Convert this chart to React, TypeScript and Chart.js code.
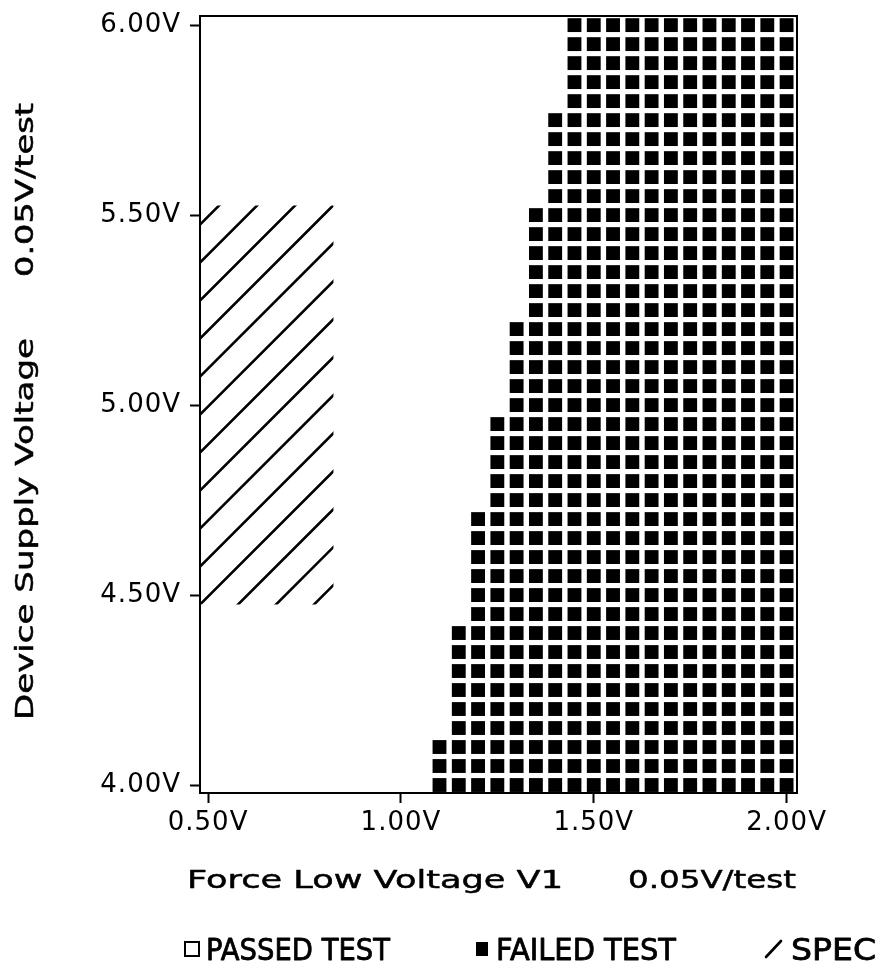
import React, { useEffect, useRef } from "react";
import { Chart, registerables } from "chart.js";

Chart.register(...registerables);

// ---- data ----
const forceLowV1 = [
  0.5, 0.55, 0.6, 0.65, 0.7, 0.75, 0.8, 0.85, 0.9, 0.95, 1.0, 1.05, 1.1, 1.15, 1.2, 1.25,
  1.3, 1.35, 1.4, 1.45, 1.5, 1.55, 1.6, 1.65, 1.7, 1.75, 1.8, 1.85, 1.9, 1.95, 2.0,
];
const supplyVdd = [
  4.0, 4.05, 4.1, 4.15, 4.2, 4.25, 4.3, 4.35, 4.4, 4.45, 4.5, 4.55, 4.6, 4.65, 4.7, 4.75,
  4.8, 4.85, 4.9, 4.95, 5.0, 5.05, 5.1, 5.15, 5.2, 5.25, 5.3, 5.35, 5.4, 5.45, 5.5, 5.55,
  5.6, 5.65, 5.7, 5.75, 5.8, 5.85, 5.9, 5.95, 6.0,
];
// lowest Force-Low V1 that fails, for each supply voltage row (all higher V1 fail too)
const firstFailV1 = [
  1.1, 1.1, 1.1,
  1.15, 1.15, 1.15, 1.15, 1.15, 1.15,
  1.2, 1.2, 1.2, 1.2, 1.2, 1.2,
  1.25, 1.25, 1.25, 1.25, 1.25,
  1.3, 1.3, 1.3, 1.3, 1.3,
  1.35, 1.35, 1.35, 1.35, 1.35, 1.35,
  1.4, 1.4, 1.4, 1.4, 1.4,
  1.45, 1.45, 1.45, 1.45, 1.45,
];
const xTickValues = [0.5, 1.0, 1.5, 2.0];
const yTickValues = [4.0, 4.5, 5.0, 5.5, 6.0];
const specV1 = [0.5, 0.8];
const specVdd = [4.5, 5.5];
const testStep = 0.05;

const xTitleMain = "Force Low Voltage V1";
const xTitleStep = "0.05V/test";
const yTitleMain = "Device Supply Voltage";
const yTitleStep = "0.05V/test";
const legendLabels = ["PASSED TEST", "FAILED TEST", "SPEC"];

const FONT = "'DejaVu Sans', 'Noto Sans', sans-serif";

function buildFailedPoints() {
  const pts: { x: number; y: number }[] = [];
  supplyVdd.forEach((vdd, i) => {
    forceLowV1.forEach((v1) => {
      if (v1 >= firstFailV1[i] - 1e-9) pts.push({ x: v1, y: vdd });
    });
  });
  return pts;
}

function drawFitted(
  ctx: CanvasRenderingContext2D,
  text: string,
  start: number,
  end: number,
  baseline: number,
  size: number,
  rotated = false,
  weight = 0.5
) {
  ctx.save();
  (ctx as any).letterSpacing = "0px";
  ctx.font = `${size}px ${FONT}`;
  ctx.fillStyle = "#000";
  ctx.strokeStyle = "#000";
  ctx.lineWidth = weight;
  ctx.lineJoin = "round";
  ctx.textAlign = "left";
  ctx.textBaseline = "alphabetic";
  const w = ctx.measureText(text).width;
  const s = Math.abs(end - start) / w;
  if (rotated) {
    ctx.translate(baseline, start);
    ctx.rotate(-Math.PI / 2);
  } else {
    ctx.translate(start, baseline);
  }
  ctx.scale(s, 1);
  ctx.fillText(text, 0, 0);
  if (weight > 0) ctx.strokeText(text, 0, 0);
  ctx.restore();
}

const spacingPlugin = {
  id: "letterSpacing",
  beforeDraw(chart: any) {
    chart.ctx.letterSpacing = "1px";
  },
};

const hatchPlugin = {
  id: "specHatch",
  beforeDatasetsDraw(chart: any) {
    const { ctx, chartArea: a, scales } = chart;
    const xs = scales.x;
    const ys = scales.y;
    const half = testStep / 2;
    const left = Math.max(a.left, xs.getPixelForValue(specV1[0] - half));
    const right = Math.min(a.right, xs.getPixelForValue(specV1[1] + half));
    const top = Math.max(a.top, ys.getPixelForValue(specVdd[1] + half));
    const bottom = Math.min(a.bottom, ys.getPixelForValue(specVdd[0] - half));
    const spacing = Math.abs(
      ys.getPixelForValue(specVdd[0] + 2 * testStep) - ys.getPixelForValue(specVdd[0])
    );
    const w = right - left;
    const h = bottom - top;
    ctx.save();
    ctx.beginPath();
    ctx.rect(left, top, w, h);
    ctx.clip();
    ctx.strokeStyle = "#000";
    ctx.lineWidth = 2.6;
    ctx.beginPath();
    const n = Math.ceil((w + h) / spacing) + 1;
    for (let k = -n; k <= n; k++) {
      const y0 = bottom - k * spacing;
      ctx.moveTo(left, y0);
      ctx.lineTo(left + w + h, y0 - (w + h));
    }
    ctx.stroke();
    ctx.restore();
  },
};

const decorPlugin = {
  id: "decor",
  afterDraw(chart: any) {
    const { ctx, chartArea: a } = chart;
    ctx.save();
    ctx.strokeStyle = "#000";
    ctx.lineWidth = 2;
    ctx.strokeRect(a.left, a.top, a.right - a.left, a.bottom - a.top);
    ctx.restore();

    // axis titles
    drawFitted(ctx, xTitleMain, 187, 563, 888, 25);
    drawFitted(ctx, xTitleStep, 628, 796, 888, 25);
    drawFitted(ctx, yTitleMain, 720, 338, 33, 25, true);
    drawFitted(ctx, yTitleStep, 277, 103, 33, 25, true);

    // legend
    const base = 960;
    ctx.save();
    ctx.strokeStyle = "#000";
    ctx.fillStyle = "#000";
    ctx.lineWidth = 2;
    ctx.strokeRect(185, 942, 14, 14);
    ctx.fillRect(476, 942, 12, 14);
    ctx.lineWidth = 2.6;
    ctx.lineCap = "round";
    ctx.beginPath();
    ctx.moveTo(766, 957);
    ctx.lineTo(781, 941);
    ctx.stroke();
    ctx.restore();
    drawFitted(ctx, legendLabels[0], 206, 390, base, 30, false, 0.8);
    drawFitted(ctx, legendLabels[1], 496, 676, base, 30, false, 0.8);
    drawFitted(ctx, legendLabels[2], 791, 876, base, 30, false, 0.8);
  },
};

function zeroPadding(scale: any) {
  scale.paddingTop = 0;
  scale.paddingBottom = 0;
  scale.paddingLeft = 0;
  scale.paddingRight = 0;
}

export default function App() {
  const canvasRef = useRef<HTMLCanvasElement | null>(null);

  useEffect(() => {
    if (!canvasRef.current) return;
    const axisCommon = {
      grid: {
        display: true,
        drawOnChartArea: false,
        drawTicks: true,
        tickLength: 10,
        tickWidth: 2,
        tickColor: "#000",
      },
      border: { display: true, width: 2, color: "#000" },
    };
    const chart = new Chart(canvasRef.current, {
      type: "scatter",
      data: {
        datasets: [
          {
            label: "FAILED TEST",
            data: buildFailedPoints(),
            pointStyle: "rect",
            pointRadius: 9.8,
            pointHoverRadius: 9.8,
            backgroundColor: "#000",
            borderWidth: 0,
          },
        ],
      },
      options: {
        animation: false,
        responsive: true,
        maintainAspectRatio: false,
        events: [],
        layout: { padding: { left: 0, right: 86, top: 16, bottom: 0 } },
        plugins: {
          legend: { display: false },
          tooltip: { enabled: false },
          title: { display: false },
        },
        scales: {
          x: {
            type: "linear",
            position: "bottom",
            min: 0.479,
            max: 2.027,
            ...axisCommon,
            afterBuildTicks: (scale: any) => {
              scale.ticks = xTickValues.map((v) => ({ value: v }));
            },
            afterFit: (scale: any) => {
              scale.height = 178;
              zeroPadding(scale);
            },
            ticks: {
              color: "#000",
              padding: 5,
              maxRotation: 0,
              autoSkip: false,
              font: { family: FONT, size: 26 },
              callback: (v: any) => `${Number(v).toFixed(2)}V`,
            },
          },
          y: {
            type: "linear",
            position: "left",
            min: 3.979,
            max: 6.024,
            ...axisCommon,
            afterBuildTicks: (scale: any) => {
              scale.ticks = yTickValues.map((v) => ({ value: v }));
            },
            afterFit: (scale: any) => {
              scale.width = 200;
              zeroPadding(scale);
            },
            ticks: {
              color: "#000",
              padding: 9,
              autoSkip: false,
              font: { family: FONT, size: 26 },
              callback: (v: any) => `${Number(v).toFixed(2)}V`,
            },
          },
        },
      },
      plugins: [spacingPlugin, hatchPlugin, decorPlugin],
    } as any);
    return () => chart.destroy();
  }, []);

  return (
    <div
      style={{
        position: "fixed",
        left: 0,
        top: 0,
        width: 883,
        height: 971,
        background: "#fff",
      }}
    >
      <canvas ref={canvasRef} />
    </div>
  );
}
